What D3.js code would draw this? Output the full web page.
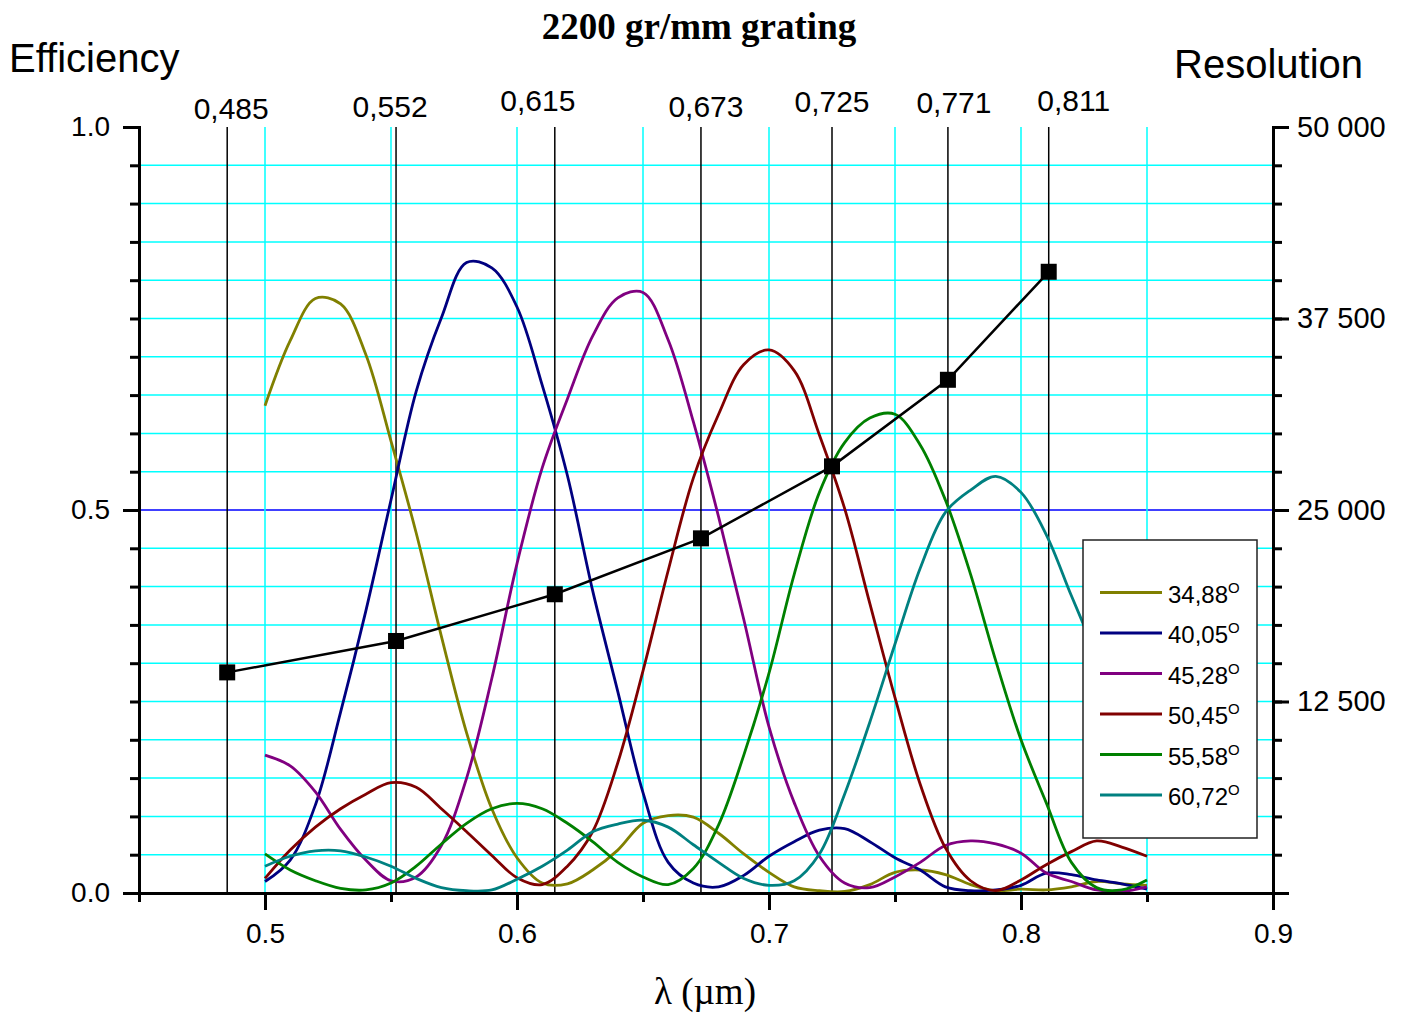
<!DOCTYPE html>
<html>
<head>
<meta charset="utf-8">
<script src="https://cdn.jsdelivr.net/npm/d3@7"></script>
<style>
body{margin:0;background:#fff;}
svg{display:block;}
.axis text{font-family:"Liberation Sans",Arial,sans-serif;font-size:28px;fill:#000;}
.axis path,.axis line{stroke:#000;stroke-width:3;}
</style>
</head>
<body>
<svg width="1413" height="1019"></svg>
<script>
// wavelengths (um) of the measured points
var lambda = [0.50,0.51,0.52,0.53,0.54,0.55,0.56,0.57,0.58,0.59,
	0.60,0.61,0.62,0.63,0.64,0.65,0.66,0.67,0.68,0.69,
	0.70,0.71,0.72,0.73,0.74,0.75,0.76,0.77,0.78,0.79,
	0.80,0.81,0.82,0.83,0.84,0.85];

// efficiency for every grating angle
var eff3488 = [0.636,0.721,0.776,0.769,0.703,0.59,0.47,0.335,0.209,0.11,
	0.046,0.013,0.012,0.03,0.056,0.091,0.101,0.099,0.078,0.051,
	0.027,0.008,0.003,0.002,0.011,0.027,0.030,0.024,0.011,0.003,
	0.005,0.004,0.008,0.015,0.012,0.010];
var eff4005 = [0.015,0.043,0.115,0.236,0.368,0.513,0.655,0.751,0.823,0.816,
	0.765,0.663,0.545,0.395,0.263,0.131,0.040,0.013,0.008,0.023,
	0.048,0.067,0.082,0.084,0.067,0.046,0.030,0.008,0.003,0.004,
	0.010,0.026,0.024,0.017,0.012,0.005];
var eff4528 = [0.180,0.166,0.132,0.083,0.043,0.016,0.021,0.062,0.15,0.28,
	0.43,0.555,0.645,0.727,0.777,0.784,0.722,0.615,0.491,0.357,
	0.217,0.118,0.048,0.013,0.007,0.021,0.040,0.062,0.068,0.064,
	0.052,0.026,0.015,0.004,0.002,0.008];
var eff5045 = [0.019,0.056,0.086,0.11,0.129,0.144,0.138,0.11,0.08,0.049,
	0.02,0.011,0.035,0.08,0.17,0.29,0.421,0.542,0.625,0.690,
	0.709,0.682,0.598,0.502,0.378,0.255,0.142,0.059,0.016,0.003,
	0.017,0.037,0.054,0.068,0.060,0.048];
var eff5558 = [0.051,0.030,0.016,0.006,0.004,0.013,0.035,0.064,0.091,0.110,
	0.117,0.110,0.091,0.067,0.040,0.021,0.011,0.032,0.089,0.180,
	0.287,0.416,0.523,0.588,0.620,0.625,0.585,0.513,0.416,0.303,
	0.200,0.118,0.040,0.007,0.004,0.017];
var eff6072 = [0.035,0.048,0.055,0.055,0.047,0.035,0.019,0.007,0.003,0.004,
	0.018,0.035,0.056,0.08,0.090,0.095,0.086,0.063,0.040,0.019,
	0.010,0.016,0.051,0.129,0.223,0.325,0.424,0.497,0.526,0.544,
	0.523,0.468,0.388,0.31,0.23,0.16];

var seriesNames = ["34,88","40,05","45,28","50,45","55,58","60,72"];
var seriesColors = ["#808000","#000080","#800080","#800000","#008000","#008080"];
var seriesData = [eff3488,eff4005,eff4528,eff5045,eff5558,eff6072];

// resolution at the marked wavelengths
var resLambda = [0.485,0.552,0.615,0.673,0.725,0.771,0.811];
var resValue = [14400,16450,19500,23150,27850,33500,40550];

// axis ticks
var xMajor = [0.5,0.6,0.7,0.8,0.9];
var yMajor = [0,0.5,1.0];
var rMajor = [0,12500,25000,37500,50000];

// little nudges of the top labels, as in the picture
var topLabelDx = [4,-6,-17,5,0,6,25];
var topLabelY = [119,117,111,117,112,113,111];

var svg = d3.select("svg");
var font = '"Liberation Sans",Arial,sans-serif';
var serif = '"Liberation Serif","Times New Roman",serif';

var x = d3.scaleLinear().domain([0.45,0.9]).range([139,1273]);
var y = d3.scaleLinear().domain([0,1]).range([893,127]);
var yR = d3.scaleLinear().domain([0,50000]).range([893,127]);

//网格
var grid = svg.append("g");
grid.selectAll("line.h")
	.data(y.ticks(20).filter(function(d){ return d > 0 && d < 1; }))
	.enter().append("line")
	.attr("x1",139).attr("x2",1273)
	.attr("y1",function(d){ return y(d); })
	.attr("y2",function(d){ return y(d); })
	.attr("stroke",function(d){ return Math.abs(d-0.5) < 1e-9 ? "#0000ff" : "#00ffff"; })
	.attr("stroke-width",1.5);
grid.selectAll("line.v")
	.data(x.ticks(10).filter(function(d){ return d > 0.46 && d < 0.89; }))
	.enter().append("line")
	.attr("y1",127).attr("y2",893)
	.attr("x1",function(d){ return x(d); })
	.attr("x2",function(d){ return x(d); })
	.attr("stroke","#00ffff")
	.attr("stroke-width",1.5);

// black lines at the resolution wavelengths
svg.append("g").selectAll("line")
	.data(resLambda)
	.enter().append("line")
	.attr("y1",127).attr("y2",893)
	.attr("x1",function(d){ return x(d); })
	.attr("x2",function(d){ return x(d); })
	.attr("stroke","#000")
	.attr("stroke-width",1.5);

svg.append("g").selectAll("text")
	.data(resLambda)
	.enter().append("text")
	.attr("x",function(d,i){ return x(d) + topLabelDx[i]; })
	.attr("y",function(d,i){ return topLabelY[i]; })
	.attr("text-anchor","middle")
	.attr("font-family",font)
	.attr("font-size",30)
	.text(function(d){ return d3.format(".3f")(d).replace(".",","); });

// efficiency curves
var line = d3.line()
	.x(function(d,i){ return x(lambda[i]); })
	.y(function(d){ return y(Math.max(d,0)); })
	.curve(d3.curveCatmullRom.alpha(0.5));

svg.append("g").selectAll("path")
	.data(seriesData)
	.enter().append("path")
	.attr("d",function(d){ return line(d); })
	.attr("fill","none")
	.attr("stroke",function(d,i){ return seriesColors[i]; })
	.attr("stroke-width",2.8)
	.attr("stroke-linejoin","round");

// resolution line with squares
var resLine = d3.line()
	.x(function(d,i){ return x(resLambda[i]); })
	.y(function(d){ return yR(d); });
svg.append("path")
	.attr("d",resLine(resValue))
	.attr("fill","none")
	.attr("stroke","#000")
	.attr("stroke-width",2.5);
svg.append("g").selectAll("rect")
	.data(resValue)
	.enter().append("rect")
	.attr("x",function(d,i){ return x(resLambda[i]) - 8; })
	.attr("y",function(d){ return yR(d) - 8; })
	.attr("width",16).attr("height",16)
	.attr("fill","#000");

// legend
var legend = svg.append("g");
legend.append("rect")
	.attr("x",1083).attr("y",540)
	.attr("width",174).attr("height",298)
	.attr("fill","#fff")
	.attr("stroke","#222")
	.attr("stroke-width",1.5);
var item = legend.selectAll("g")
	.data(seriesNames)
	.enter().append("g")
	.attr("transform",function(d,i){ return "translate(0," + (592.5 + i*40.5) + ")"; });
item.append("line")
	.attr("x1",1100).attr("x2",1162)
	.attr("stroke",function(d,i){ return seriesColors[i]; })
	.attr("stroke-width",2.8);
var lt = item.append("text")
	.attr("x",1168).attr("y",10)
	.attr("font-family",font)
	.attr("font-size",24);
lt.append("tspan").text(function(d){ return d; });
lt.append("tspan").attr("dy",-10).attr("font-size",15).text("O");

// axes
var spaceFmt = function(d){ return d ? d3.format(",")(d).replace(/,/g," ") : ""; };

var ax = svg.append("g").attr("class","axis");
ax.append("g").attr("transform","translate(0,893)")
	.call(d3.axisBottom(x).tickValues(x.ticks(10)).tickSize(9).tickSizeOuter(0).tickFormat(""));
ax.append("g").attr("transform","translate(0,893)")
	.call(d3.axisBottom(x).tickValues(xMajor).tickSize(17).tickSizeOuter(0).tickPadding(13).tickFormat(d3.format(".1f")));
ax.append("g").attr("transform","translate(139,0)")
	.call(d3.axisLeft(y).tickValues(y.ticks(20)).tickSize(9).tickSizeOuter(0).tickFormat(""));
ax.append("g").attr("transform","translate(139,0)")
	.call(d3.axisLeft(y).tickValues(yMajor).tickSize(16).tickSizeOuter(0).tickPadding(13).tickFormat(d3.format(".1f")));
ax.append("g").attr("transform","translate(1273,0)")
	.call(d3.axisRight(yR).tickValues(y.ticks(20).map(function(d){ return d*50000; })).tickSize(9).tickSizeOuter(0).tickFormat(""));
var rAx = ax.append("g").attr("transform","translate(1273,0)")
	.call(d3.axisRight(yR).tickValues(rMajor).tickSize(16).tickSizeOuter(0).tickPadding(8).tickFormat(spaceFmt));
rAx.selectAll("text").style("font-size","29px");
ax.selectAll("path.domain").attr("stroke-linecap","square");

// titles
svg.append("text")
	.attr("x",699).attr("y",39)
	.attr("text-anchor","middle")
	.attr("font-family",serif)
	.attr("font-weight","bold")
	.attr("font-size",37)
	.text("2200 gr/mm grating");
svg.append("text")
	.attr("x",9).attr("y",72)
	.attr("font-family",font)
	.attr("font-size",40)
	.text("Efficiency");
svg.append("text")
	.attr("x",1174).attr("y",78)
	.attr("font-family",font)
	.attr("font-size",40)
	.text("Resolution");
svg.append("text")
	.attr("x",705).attr("y",1004)
	.attr("text-anchor","middle")
	.attr("font-family",serif)
	.attr("font-size",37)
	.text("λ (µm)");
</script>
</body>
</html>
